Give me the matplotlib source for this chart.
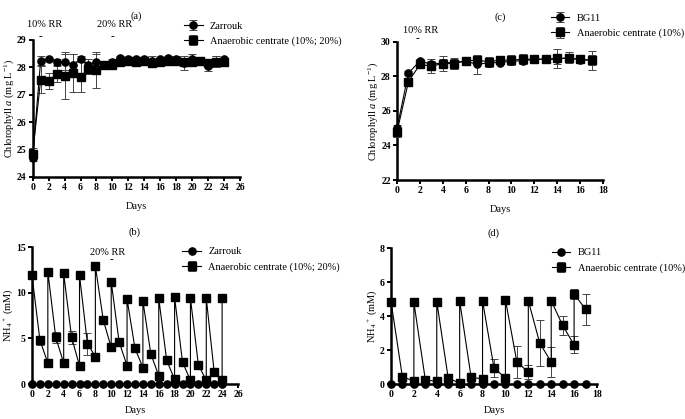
import numpy as np
import matplotlib.pyplot as plt

plt.rcParams["font.family"] = ["Liberation Serif", "DejaVu Serif"]
plt.rcParams["mathtext.fontset"] = "custom"
plt.rcParams["mathtext.rm"] = "Liberation Serif"
plt.rcParams["mathtext.it"] = "Liberation Serif:italic"

# (a) chlorophyll, Zarrouk vs anaerobic centrate (10%; 20%)
days_a = np.arange(0, 25)
zar_chl = [24.7, 28.25, 28.3, 28.2, 28.2, 28.1, 28.3, 28.1, 28.2, 28.1, 28.2, 28.35, 28.3,
           28.3, 28.3, 28.25, 28.3, 28.35, 28.3, 28.15, 28.3, 28.25, 28.05, 28.2, 28.3]
zar_chl_err = [0.1, 0.15, 0.05, 0.1, 0.3, 0.4, 0.1, 0.2, 0.3, 0.1, 0.1, 0.05, 0.05,
               0.05, 0.05, 0.15, 0.05, 0.05, 0.1, 0.25, 0.2, 0.05, 0.2, 0.2, 0.05]
ana_chl = [24.85, 27.55, 27.5, 27.75, 27.7, 27.8, 27.65, 27.95, 27.9, 28.1, 28.1, 28.2, 28.25,
           28.2, 28.25, 28.15, 28.2, 28.25, 28.25, 28.2, 28.2, 28.25, 28.15, 28.2, 28.2]
ana_chl_err = [0.2, 0.5, 0.3, 0.3, 0.85, 0.7, 0.55, 0.2, 0.65, 0.15, 0.1, 0.1, 0.1,
               0.1, 0.1, 0.15, 0.1, 0.1, 0.1, 0.1, 0.1, 0.05, 0.1, 0.2, 0.1]

# (b) NH4+, Zarrouk vs anaerobic centrate (10%; 20%)
zar_nh4 = np.zeros(25)
days_b = [0, 1, 2, 2, 3, 4, 4, 5, 6, 6, 7, 8, 8, 9, 10, 10, 11, 12, 12, 13, 14, 14, 15, 16, 16,
          17, 18, 18, 19, 20, 20, 21, 22, 22, 23, 24, 24]
ana_nh4 = [11.9, 4.8, 2.3, 12.3, 5.1, 2.3, 12.1, 5.1, 2.0, 11.9, 4.4, 3.0, 12.9, 7.0, 4.0, 11.2,
           4.6, 2.0, 9.3, 3.9, 1.8, 9.1, 3.3, 0.9, 9.4, 2.6, 0.5, 9.5, 2.4, 0.4, 9.4, 2.1, 0.4,
           9.4, 1.3, 0.4, 9.4]
ana_nh4_err = [0.1, 0.5, 0.3, 0.2, 0.6, 0.2, 0.1, 0.75, 0.1, 0.1, 1.2, 0.1, 0.1, 0.1, 0.1, 0.3,
               0.1, 0.1, 0.1, 0.1, 0.1, 0.1, 0.1, 0.1, 0.1, 0.1, 0.1, 0.1, 0.1, 0.1, 0.1, 0.1,
               0.1, 0.1, 0.1, 0.1, 0.1]

# (c) chlorophyll, BG11 vs anaerobic centrate (10%)
days_c = np.arange(0, 18)
bg_chl = [25.0, 28.2, 28.9, 28.7, 28.8, 28.8, 28.9, 28.7, 28.8, 28.8, 28.9, 28.9, 29.0, 29.0,
          29.0, 29.1, 28.95, 28.95]
bg_chl_err = [0.2, 0.1, 0.1, 0.2, 0.2, 0.2, 0.1, 0.55, 0.2, 0.1, 0.2, 0.2, 0.05, 0.05,
              0.3, 0.3, 0.1, 0.3]
ana10_chl = [24.8, 27.7, 28.7, 28.6, 28.75, 28.75, 28.9, 28.95, 28.85, 28.95, 28.95, 29.0,
             29.0, 29.0, 29.05, 29.05, 29.0, 28.95]
ana10_chl_err = [0.3, 0.1, 0.2, 0.4, 0.45, 0.3, 0.1, 0.2, 0.3, 0.2, 0.3, 0.3, 0.05, 0.05,
                 0.55, 0.2, 0.1, 0.55]

# (d) NH4+, BG11 vs anaerobic centrate (10%)
bg_nh4 = np.zeros(18)
days_d = [0, 1, 2, 2, 3, 4, 4, 5, 6, 6, 7, 8, 8, 9, 10, 10, 11, 12, 12, 13, 14, 14, 15, 16, 16, 17]
ana10_nh4 = [4.85, 0.4, 0.2, 4.8, 0.25, 0.15, 4.85, 0.35, 0.05, 4.9, 0.4, 0.3, 4.9, 0.95, 0.35,
             4.95, 1.3, 0.7, 4.9, 2.4, 1.3, 4.9, 3.45, 2.3, 5.3, 4.4]
ana10_nh4_err = [0.05, 0.25, 0.05, 0.05, 0.1, 0.05, 0.05, 0.1, 0.05, 0.05, 0.1, 0.1, 0.05, 0.55,
                 0.1, 0.05, 0.95, 0.4, 0.05, 1.35, 0.9, 0.05, 0.55, 0.5, 0.3, 0.9]

FS = 7


def style(ax, xmax, ymin, ymax, ystep, ylabel, xpad):
    ax.set_xlim(0, xmax)
    ax.set_ylim(ymin, ymax)
    ax.set_xticks(np.arange(0, xmax + 1, 2))
    ax.set_yticks(np.arange(ymin, ymax + 0.01, ystep))
    for s in ["top", "right"]:
        ax.spines[s].set_visible(False)
    for s in ["left", "bottom"]:
        ax.spines[s].set_linewidth(1.8)
    ax.tick_params(width=1.4, length=3, labelsize=FS, pad=1.5)
    for lab in ax.get_xticklabels() + ax.get_yticklabels():
        lab.set_fontweight("bold")
    ax.set_xlabel("Days", fontsize=FS + 0.5, labelpad=xpad)
    ax.set_ylabel(ylabel, fontsize=FS + 0.5, labelpad=0.5)


def series(ax, x, y, err, marker, label):
    ax.errorbar(x, y, yerr=err, color="black", marker=marker, ms=5.2, lw=0.8,
                ecolor="#444444", elinewidth=0.7, capsize=2.6, capthick=0.7,
                clip_on=False, label=label, zorder=3)


def legend(ax, x, y):
    ax.legend(loc="upper left", bbox_to_anchor=(x, y), frameon=False, fontsize=FS + 0.5,
              handlelength=1.8, handletextpad=0.7, labelspacing=0.55, borderaxespad=0)


fig = plt.figure(figsize=(6.85, 4.19), dpi=100)
ax_a = fig.add_axes([0.0477, 0.5776, 0.3026, 0.327])
ax_b = fig.add_axes([0.0467, 0.0835, 0.3007, 0.327])
ax_c = fig.add_axes([0.5796, 0.5704, 0.3007, 0.3294])
ax_d = fig.add_axes([0.5708, 0.0835, 0.3007, 0.3246])

chl_label = "Chlorophyll $\\it{a}$ (mg L$^{-1}$)"
nh4_label = "NH$_4$$^+$ (mM)"

series(ax_a, days_a, zar_chl, zar_chl_err, "o", "Zarrouk")
series(ax_a, days_a, ana_chl, ana_chl_err, "s", "Anaerobic centrate (10%; 20%)")
style(ax_a, 26, 24, 29, 1, chl_label, 7)
ax_a.set_title("(a)", fontsize=FS + 0.5, pad=15)
ax_a.text(1.5, 29.55, "10% RR", ha="center", va="center", fontsize=FS + 0.5)
ax_a.text(10.3, 29.55, "20% RR", ha="center", va="center", fontsize=FS + 0.5)
ax_a.text(1, 29.13, "-", ha="center", va="center", fontsize=FS + 1, fontweight="bold")
ax_a.text(10, 29.13, "-", ha="center", va="center", fontsize=FS + 1, fontweight="bold")
legend(ax_a, 0.71, 1.167)

series(ax_b, days_a, zar_nh4, None, "o", "Zarrouk")
series(ax_b, days_b, ana_nh4, ana_nh4_err, "s", "Anaerobic centrate (10%; 20%)")
style(ax_b, 26, 0, 15, 5, nh4_label, 5)
ax_b.set_title("(b)", fontsize=FS + 0.5, pad=9)
ax_b.text(9.6, 14.45, "20% RR", ha="center", va="center", fontsize=FS + 0.5)
ax_b.text(10, 13.6, "-", ha="center", va="center", fontsize=FS + 1, fontweight="bold")
legend(ax_b, 0.71, 1.03)

series(ax_c, days_c, bg_chl, bg_chl_err, "o", "BG11")
series(ax_c, days_c, ana10_chl, ana10_chl_err, "s", "Anaerobic centrate (10%)")
style(ax_c, 18, 22, 30, 2, chl_label, 7)
ax_c.set_title("(c)", fontsize=FS + 0.5, pad=16)
ax_c.text(2.1, 30.65, "10% RR", ha="center", va="center", fontsize=FS + 0.5)
ax_c.text(1.8, 30.2, "-", ha="center", va="center", fontsize=FS + 1, fontweight="bold")
legend(ax_c, 0.725, 1.236)

series(ax_d, days_c, bg_nh4, None, "o", "BG11")
series(ax_d, days_d, ana10_nh4, ana10_nh4_err, "s", "Anaerobic centrate (10%)")
style(ax_d, 18, 0, 8, 2, nh4_label, 5)
ax_d.set_title("(d)", fontsize=FS + 0.5, pad=9)
legend(ax_d, 0.76, 1.03)

fig.savefig("out.png", dpi=100)
